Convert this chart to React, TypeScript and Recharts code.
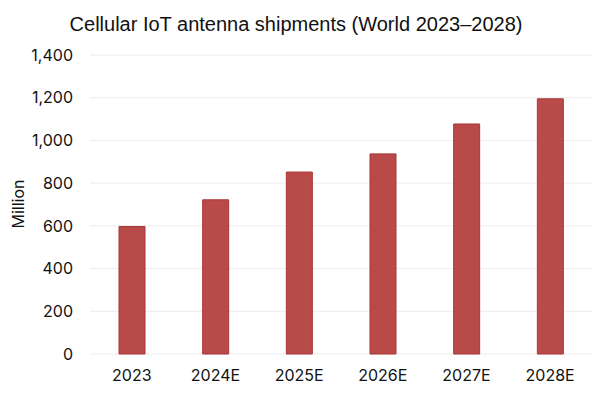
import { Bar, BarChart, CartesianGrid, Label, XAxis, YAxis } from 'recharts'

const years = ['2023', '2024E', '2025E', '2026E', '2027E', '2028E']
const shipments = [597, 722, 852, 937, 1077, 1195]
const yTicks = [0, 200, 400, 600, 800, 1000, 1200, 1400]

const data = years.map((year, i) => ({ year, value: shipments[i] }))

const font = 'Inter, "Liberation Sans", Arial, sans-serif'

export default function App() {
  return (
    <div style={{ position: 'absolute', left: 0, top: 0, width: 600, height: 400, background: '#fff', fontFamily: font }}>
      <div
        style={{
          position: 'absolute',
          left: 0,
          top: 13,
          width: 592,
          textAlign: 'center',
          fontSize: 20,
          fontFamily: '"Liberation Sans", Arial, sans-serif',
          color: '#111',
        }}
      >
        Cellular IoT antenna shipments (World 2023–2028)
      </div>
      <BarChart width={600} height={400} data={data} margin={{ top: 55, right: 8, bottom: 16, left: 0 }}>
        <CartesianGrid vertical={false} stroke="#ececec" />
        <XAxis
          dataKey="year"
          axisLine={false}
          tickLine={false}
          tickSize={0}
          tickMargin={16}
          height={30}
          tick={{ fontSize: 16, fill: '#111', fontFamily: font }}
        />
        <YAxis
          width={90}
          domain={[0, 1400]}
          ticks={yTicks}
          axisLine={false}
          tickLine={false}
          tickSize={0}
          tickMargin={17}
          tickFormatter={(v) => Number(v).toLocaleString('en-US')}
          tick={{ fontSize: 16, fill: '#111', fontFamily: font }}
        >
          <Label
            content={() => (
              <text
                x={18}
                y={204}
                transform="rotate(-90 18 204)"
                textAnchor="middle"
                dominantBaseline="central"
                fontSize={16}
                fill="#111"
                fontFamily={font}
              >
                Million
              </text>
            )}
          />
        </YAxis>
        <Bar dataKey="value" fill="#b84a4a" stroke="#ac3535" barSize={26} isAnimationActive={false} />
      </BarChart>
    </div>
  )
}
